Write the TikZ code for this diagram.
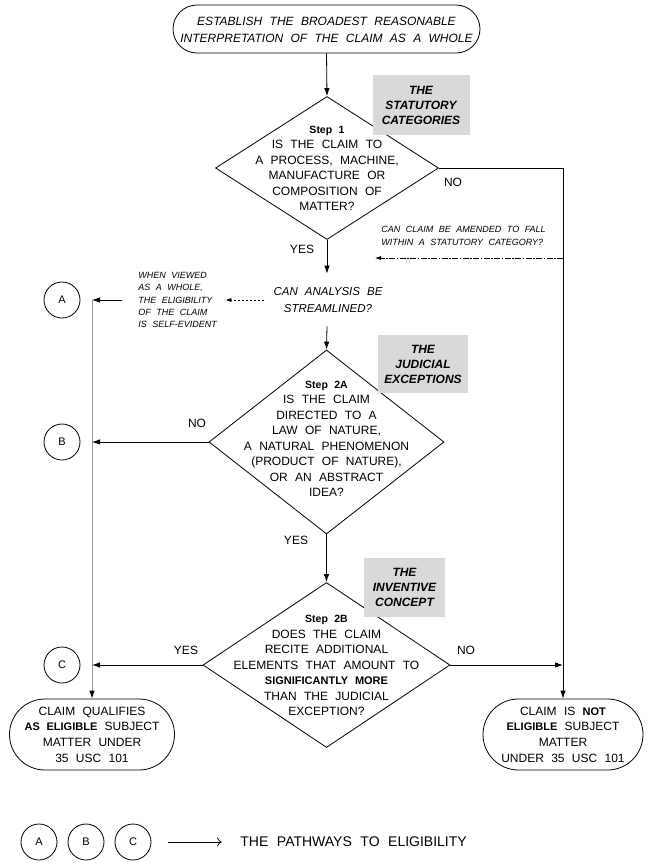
\documentclass[tikz,border=0pt]{standalone}
\usepackage{fontspec}
\setmainfont{Liberation Sans}[WordSpace=2.2]
\usetikzlibrary{arrows.meta,shapes.geometric,shapes.misc}
\newcommand\bsm[1]{{\fontsize{11}{15.5}\selectfont\bfseries #1}}
\newcommand\steplab[1]{{\fontsize{10.5}{15.5}\selectfont\bfseries #1}}
\begin{document}
\begin{tikzpicture}[x=1pt,y=-1pt,line width=0.8pt,
  arr/.style={-{Latex[length=8pt,width=5.5pt]}},
  dia/.style={draw,diamond,inner sep=0pt},
  term/.style={draw,rounded rectangle,inner sep=0pt},
  txt/.style={align=center,inner sep=0pt,font=\fontsize{12}{15.5}\selectfont},
  lab/.style={inner sep=0pt,font=\fontsize{12}{14}\selectfont},
  gbox/.style={fill=black!15,inner sep=0pt,align=center,font=\fontsize{12}{15}\selectfont\bfseries\itshape},
  circ/.style={draw,circle,minimum size=36pt,inner sep=0pt,font=\fontsize{11}{13}\selectfont},
  smit/.style={inner sep=0pt,align=left,font=\fontsize{9}{12.3}\selectfont\itshape},
]
\useasboundingbox (0,0) rectangle (653,863);

% terminals
\node[term,minimum width=307pt,minimum height=48pt] (start) at (326.5,29) {};
\node[txt,font=\fontsize{12}{17}\selectfont\itshape] (startt) at (326.5,29.5)
  {ESTABLISH THE BROADEST REASONABLE\\INTERPRETATION OF THE CLAIM AS A WHOLE};

\node[term,minimum width=165pt,minimum height=71pt] (elig) at (92,734.5) {};
\node[txt,font=\fontsize{12}{15.7}\selectfont] (eligt) at (92,734.5)
  {CLAIM QUALIFIES\\\bsm{AS ELIGIBLE} SUBJECT\\MATTER UNDER\\35 USC 101};

\node[term,minimum width=160pt,minimum height=71pt] (notel) at (563,734.5) {};
\node[txt,font=\fontsize{12}{15.7}\selectfont] (notelt) at (563,734.5)
  {CLAIM IS \bsm{NOT}\\\bsm{ELIGIBLE} SUBJECT\\MATTER\\UNDER 35 USC 101};

% diamonds
\node[dia,minimum width=223pt,minimum height=143pt] (d1) at (327,168) {};
\node[txt] (d1t) at (327,168.5)
  {\steplab{Step 1}\\IS THE CLAIM TO\\A PROCESS, MACHINE,\\MANUFACTURE OR\\COMPOSITION OF\\MATTER?};

\node[dia,minimum width=235pt,minimum height=184pt] (d2) at (326.5,442) {};
\node[txt] (d2t) at (326.5,439)
  {\steplab{Step 2A}\\IS THE CLAIM\\DIRECTED TO A\\LAW OF NATURE,\\A NATURAL PHENOMENON\\(PRODUCT OF NATURE),\\OR AN ABSTRACT\\IDEA?};

\node[dia,minimum width=247pt,minimum height=165pt] (d3) at (326.5,665) {};
\node[txt] (d3t) at (326.5,665.5)
  {\steplab{Step 2B}\\DOES THE CLAIM\\RECITE ADDITIONAL\\ELEMENTS THAT AMOUNT TO\\\bsm{SIGNIFICANTLY MORE}\\THAN THE JUDICIAL\\EXCEPTION?};

% gray boxes (over diamond edges)
\node[gbox,minimum width=97pt,minimum height=60pt] (g1) at (421,105) {THE\\STATUTORY\\CATEGORIES};
\node[gbox,minimum width=90pt,minimum height=58pt] (g2) at (423,364) {THE\\JUDICIAL\\EXCEPTIONS};
\node[gbox,minimum width=81pt,minimum height=59pt] (g3) at (404.5,587.5) {THE\\INVENTIVE\\CONCEPT};

% streamline text
\node[txt,font=\fontsize{11.5}{16.5}\selectfont\itshape,minimum height=52pt] (stream) at (328,300)
  {CAN ANALYSIS BE\\STREAMLINED?};
\node[smit,anchor=west] (viewed) at (138,300)
  {WHEN VIEWED\\AS A WHOLE,\\THE ELIGIBILITY\\OF THE CLAIM\\IS SELF-EVIDENT};
\node[smit,anchor=west] (amend) at (381,236)
  {CAN CLAIM BE AMENDED TO FALL\\WITHIN A STATUTORY CATEGORY?};

% circles
\node[circ] (ca) at (62,300) {A};
\node[circ] (cb) at (62,442) {B};
\node[circ] (cc) at (62,665) {C};

% labels
\node[lab] (no1) at (453,182) {NO};
\node[lab] (yes1) at (302,249) {YES};
\node[lab] (no2) at (197,423) {NO};
\node[lab] (yes2) at (296,540) {YES};
\node[lab] (yes3) at (186,650) {YES};
\node[lab] (no3) at (466,650) {NO};

% coordinates
\coordinate (ltop) at (92,300);
\coordinate (rc) at (563,168);
\coordinate (amstart) at (563,258);
\coordinate (amend2) at (375,258);

% connectors
\draw[arr] (start.south) -- (d1.north);
\draw[arr] (d1.south) -- (d1.south |- stream.north);
\draw[arr] (d1.south |- stream.south) -- (d2.north);
\draw[arr] (d2.south) -- (d3.north);
\draw[arr] (d1.east) -- (rc) -- (notel.north);
\draw[arr] (d3.east) -- (d3.east -| notel.north);
\draw[gray!80,line width=1pt,-{Latex[length=8pt,width=5.5pt,color=black]}] (ltop) -- (elig.north);
\draw[arr] ([xshift=-16pt]viewed.west) -- (viewed.west -| ltop);
\draw[arr] (d2.west) -- (d2.west -| ltop);
\draw[arr] (d3.west) -- (d3.west -| ltop);
\draw[line width=0.7pt,dash pattern=on 6pt off 1.5pt on 1.5pt off 1.5pt,-{Latex[length=6pt,width=4pt]}] (amstart) -- (amend2);
\draw[line width=0.7pt,dash pattern=on 2.5pt off 1.5pt,-{Latex[length=6pt,width=4pt]}] ([xshift=-9pt]stream.west |- viewed.west) -- ([xshift=8pt]viewed.east);

% legend
\node[circ] (la) at (39,842) {A};
\node[circ] (lb) at (86,842) {B};
\node[circ] (lc) at (133,842) {C};
\node[inner sep=0pt,anchor=west,font=\fontsize{14}{16}\selectfont] (leg) at (240,842) {THE PATHWAYS TO ELIGIBILITY};
\draw[line width=0.7pt,-{To[length=5pt,width=9pt]}] ([xshift=17pt]lc.east) -- ([xshift=-18pt]leg.west);
\end{tikzpicture}
\end{document}
